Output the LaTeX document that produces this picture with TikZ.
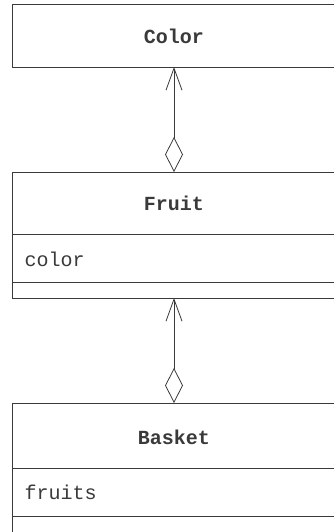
\documentclass[tikz,border=0pt]{standalone}
\usepackage{fontspec}
\setmonofont{Liberation Mono}
\usetikzlibrary{arrows.meta}
\definecolor{ink}{HTML}{3A3A3A}
\begin{document}
\begin{tikzpicture}[x=1pt,y=-1pt,
  box/.style={draw=ink,line width=0.9pt},
  cname/.style={font=\ttfamily\bfseries\fontsize{20}{22}\selectfont,text=ink},
  attr/.style={font=\ttfamily\fontsize{20}{22}\selectfont,text=ink,anchor=west},
  assoc/.style={draw=ink,line width=0.8pt,
    {Diamond[open,length=35pt,width=18pt,line width=0.8pt]}-{Straight Barb[length=22pt,width=16pt,line width=0.8pt]}}]
\useasboundingbox (0,0) rectangle (334,532);
\fill[white] (0,0) rectangle (334,532);
\begin{scope}
\clip (0,0) rectangle (334,532);
% Color
\draw[box] (12,4) rectangle (338,67);
\node[cname] (color) at (174,36) {Color};
\coordinate (colorB) at (174,67);
% Fruit
\draw[box] (12,172) rectangle (338,298);
\draw[box] (12,234) -- (338,234);
\draw[box] (12,282) -- (338,282);
\node[cname] (fruit) at (174,203) {Fruit};
\node[attr] (fcolor) at (21,259) {color};
\coordinate (fruitT) at (174,172);
\coordinate (fruitB) at (174,298);
% Basket
\draw[box] (12,403) rectangle (338,545);
\draw[box] (12,468) -- (338,468);
\draw[box] (12,516) -- (338,516);
\node[cname] (basket) at (174,437) {Basket};
\node[attr] (fruits) at (21,492) {fruits};
\coordinate (basketT) at (174,403);
% connectors
\draw[assoc] (fruitT) -- (colorB);
\draw[assoc] (basketT) -- (fruitB);
\end{scope}
\end{tikzpicture}
\end{document}
